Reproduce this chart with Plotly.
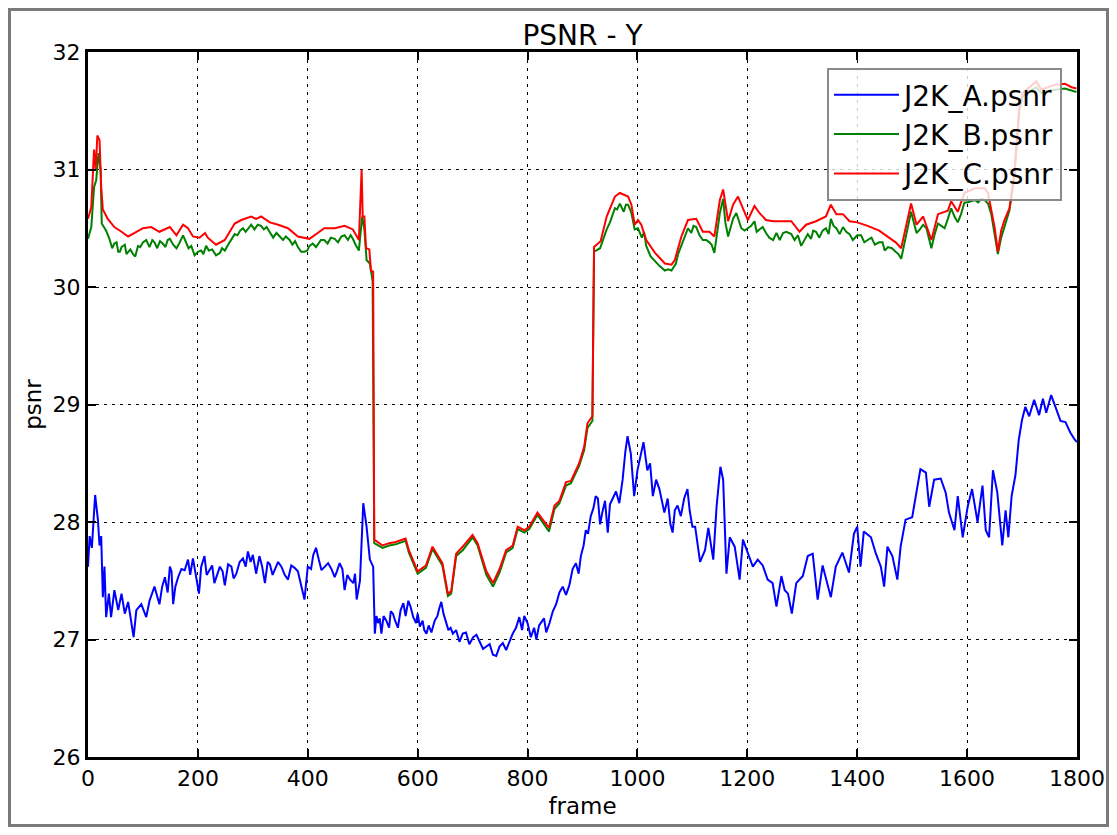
import plotly.graph_objects as go

# ---- data ----
a_frames = [0, 3, 7, 13, 18, 21, 24, 27, 30, 33, 38, 42, 48, 55, 61, 67, 73, 79, 83, 88, 97, 106, 112, 121, 130,
            140, 149, 155, 164, 176, 182, 191, 197, 202, 212, 221, 230, 240, 249, 261, 270, 282, 291, 300, 306,
            312, 322, 331, 340, 352, 364, 376, 388, 394, 400, 415, 425, 437, 449, 458, 467, 477, 489, 495, 501,
            507, 513, 519, 522, 528, 534, 543, 555, 564, 574, 583, 592, 604, 616, 631, 643, 652, 664, 682, 701,
            713, 725, 737, 749, 761, 773, 785, 794, 806, 821, 840, 852, 864, 876, 888, 897, 906, 915, 924, 936,
            946, 955, 967, 973, 982, 988, 994, 1000, 1011, 1018, 1028, 1040, 1049, 1064, 1073, 1091, 1100, 1105,
            1114, 1123, 1129, 1138, 1144, 1151, 1156, 1162, 1168, 1177, 1186, 1192, 1201, 1210, 1219, 1228, 1237,
            1246, 1253, 1262, 1268, 1274, 1281, 1289, 1301, 1310, 1319, 1328, 1337, 1352, 1361, 1373, 1385, 1394,
            1400, 1406, 1412, 1425, 1434, 1443, 1449, 1455, 1464, 1473, 1479, 1488, 1500, 1506, 1515, 1525, 1531,
            1540, 1552, 1561, 1567, 1577, 1583, 1592, 1601, 1609, 1619, 1628, 1634, 1640, 1647, 1655, 1664, 1670,
            1675, 1681, 1688, 1694, 1700, 1706, 1713, 1722, 1731, 1738, 1744, 1753, 1761, 1770, 1779, 1788, 1796,
            1800]
a_psnr = [27.62, 27.88, 27.78, 28.23, 28.02, 27.80, 27.88, 27.36, 27.62, 27.19, 27.39, 27.19, 27.42, 27.25, 27.39,
          27.22, 27.32, 27.16, 27.02, 27.25, 27.30, 27.19, 27.33, 27.45, 27.30, 27.53, 27.62, 27.30, 27.53, 27.59,
          27.68, 27.69, 27.53, 27.39, 27.71, 27.59, 27.48, 27.62, 27.46, 27.62, 27.56, 27.69, 27.75, 27.72, 27.56,
          27.71, 27.48, 27.64, 27.59, 27.62, 27.51, 27.61, 27.46, 27.34, 27.62, 27.78, 27.59, 27.65, 27.53, 27.65,
          27.42, 27.51, 27.34, 27.50, 28.16, 27.96, 27.68, 27.62, 27.05, 27.14, 27.05, 27.16, 27.22, 27.10, 27.31,
          27.33, 27.19, 27.11, 27.05, 27.16, 27.32, 27.14, 27.05, 27.05, 27.02, 26.98, 26.94, 26.87, 26.94, 26.91,
          27.05, 27.19, 27.20, 27.02, 27.12, 27.14, 27.30, 27.45, 27.46, 27.65, 27.71, 27.93, 28.05, 28.22, 28.08,
          27.91, 28.20, 28.16, 28.36, 28.73, 28.58, 28.22, 28.44, 28.68, 28.44, 28.22, 28.28, 28.08, 27.91, 28.14,
          28.28, 27.96, 27.96, 27.66, 27.76, 27.95, 27.68, 28.13, 28.47, 28.36, 27.56, 27.87, 27.79, 27.51, 27.85,
          27.73, 27.62, 27.68, 27.63, 27.51, 27.48, 27.28, 27.54, 27.42, 27.39, 27.22, 27.48, 27.54, 27.71, 27.73,
          27.34, 27.63, 27.36, 27.62, 27.74, 27.57, 27.90, 27.96, 27.62, 27.92, 27.87, 27.73, 27.62, 27.45, 27.79,
          27.71, 27.51, 27.79, 28.02, 28.04, 28.19, 28.45, 28.42, 28.13, 28.36, 28.37, 28.25, 28.08, 27.93, 28.22,
          27.87, 28.13, 28.28, 28.00, 28.31, 27.93, 27.87, 28.44, 28.25, 27.80, 28.10, 27.87, 28.22, 28.40, 28.70,
          28.87, 28.98, 28.90, 29.04, 28.91, 29.05, 28.93, 29.08, 28.98, 28.86, 28.85, 28.76, 28.70, 28.68]
# additional noise samples of A read between the points above
a_extra_frames = [135, 145, 152, 159, 170, 186, 206, 216, 226, 235, 245, 255, 265, 276, 287, 296, 317, 327, 336,
                  346, 358, 370, 382, 406, 410, 420, 431, 443, 453, 463, 472, 483, 486, 492,
                  525, 531, 538, 548, 551, 559, 569, 578, 587, 597, 600, 609, 612, 620, 625, 636, 639, 647, 656,
                  660, 670, 676, 688, 694, 707, 719, 731, 743, 755, 767, 779, 790, 800, 812, 816, 830, 834, 846,
                  858, 870, 882, 893, 902, 910, 920, 928, 932, 941, 950, 961, 978, 1005, 1023, 1034, 1045, 1055,
                  1060, 1068, 1079, 1085, 1095]
a_extra_psnr = [27.45, 27.40, 27.58, 27.45, 27.60, 27.55, 27.62, 27.55, 27.63, 27.55, 27.58, 27.64, 27.52, 27.66,
                27.62, 27.66, 27.62, 27.66, 27.55, 27.66, 27.55, 27.63, 27.58, 27.60, 27.72, 27.68, 27.62, 27.60,
                27.58, 27.60, 27.55, 27.48, 27.56, 27.42,
                27.20, 27.18, 27.20, 27.10, 27.24, 27.16, 27.25, 27.20, 27.28, 27.14, 27.22, 27.16, 27.08, 27.12,
                27.06, 27.20, 27.26, 27.22, 27.08, 27.10, 27.08, 26.98, 27.06, 26.96, 27.04, 26.92, 26.96, 26.86,
                26.97, 26.98, 27.10, 27.08, 27.14, 27.10, 27.00, 27.18, 27.06, 27.24, 27.40, 27.38, 27.60, 27.56,
                27.80, 27.90, 28.12, 28.20, 27.98, 28.18, 28.15, 28.26, 28.60, 28.55, 28.50, 28.36, 28.16, 28.20,
                27.98, 28.10, 28.05, 28.20, 28.10]

b_frames = [0, 6, 11, 15, 19, 23, 25, 33, 39, 48, 55, 61, 67, 73, 82, 91, 106, 121, 136, 149, 161, 173, 188, 200,
            215, 233, 249, 267, 282, 297, 315, 331, 349, 367, 382, 394, 403, 424, 449, 467, 482, 493, 499, 503,
            507, 513, 518, 521, 536, 548, 560, 578, 584, 600, 615, 627, 636, 645, 655, 661, 670, 682, 700, 709,
            725, 737, 749, 761, 773, 782, 794, 803, 818, 827, 839, 849, 858, 870, 879, 894, 903, 909, 918, 921,
            932, 944, 959, 968, 983, 989, 995, 1001, 1016, 1032, 1050, 1062, 1080, 1092, 1107, 1119, 1131, 1140,
            1150, 1156, 1165, 1174, 1180, 1189, 1201, 1213, 1222, 1234, 1247, 1265, 1280, 1298, 1310, 1325, 1343,
            1352, 1362, 1374, 1386, 1400, 1419, 1440, 1456, 1470, 1480, 1498, 1508, 1520, 1535, 1547, 1565, 1571,
            1583, 1595, 1614, 1632, 1638, 1650, 1656, 1662, 1668, 1677, 1686, 1695, 1701, 1714, 1726, 1735, 1747,
            1759, 1778, 1799]
b_psnr = [30.41, 30.51, 30.85, 30.91, 31.14, 31.00, 30.54, 30.48, 30.41, 30.37, 30.30, 30.34, 30.36, 30.30, 30.28,
          30.35, 30.40, 30.38, 30.37, 30.41, 30.33, 30.44, 30.35, 30.30, 30.35, 30.27, 30.31, 30.45, 30.50, 30.53,
          30.52, 30.47, 30.43, 30.40, 30.34, 30.30, 30.35, 30.40, 30.41, 30.44, 30.41, 30.31, 30.60, 30.49, 30.23,
          30.20, 30.05, 27.82, 27.78, 27.80, 27.81, 27.84, 27.74, 27.56, 27.61, 27.77, 27.70, 27.63, 27.37, 27.39,
          27.71, 27.76, 27.87, 27.80, 27.55, 27.45, 27.57, 27.74, 27.78, 27.94, 27.91, 27.94, 28.06, 28.00, 27.92,
          28.11, 28.16, 28.31, 28.33, 28.48, 28.61, 28.80, 28.86, 30.30, 30.33, 30.49, 30.67, 30.71, 30.70, 30.63,
          30.49, 30.50, 30.35, 30.22, 30.14, 30.14, 30.35, 30.50, 30.51, 30.40, 30.38, 30.29, 30.63, 30.75, 30.43,
          30.58, 30.63, 30.50, 30.50, 30.56, 30.49, 30.46, 30.40, 30.46, 30.45, 30.35, 30.45, 30.47, 30.50, 30.58,
          30.50, 30.51, 30.45, 30.44, 30.40, 30.38, 30.34, 30.30, 30.24, 30.64, 30.46, 30.53, 30.33, 30.54, 30.58,
          30.67, 30.55, 30.72, 30.74, 30.74, 30.71, 30.46, 30.28, 30.42, 30.51, 30.65, 30.94, 31.50, 31.62, 31.67,
          31.70, 31.65, 31.67, 31.68, 31.69, 31.66]
# additional noise samples of B read between the points above
b_extra_frames = [44, 52, 58, 64, 70, 77, 86, 95, 100, 112, 117, 126, 131, 141, 145, 155, 166, 178, 183, 194, 206,
                  210, 220, 226, 240, 244, 255, 260, 272, 277, 287, 292, 303, 309, 320, 325, 337, 343, 355, 360,
                  372, 377, 388, 399, 409, 415, 430, 436, 442, 455, 461, 473, 478, 487,
                  950, 963, 975, 979, 1008, 1012, 1024, 1040, 1056, 1070, 1074, 1086, 1098, 1102, 1113, 1125, 1135,
                  1145, 1160, 1170, 1185, 1195, 1207, 1217, 1228, 1240, 1253, 1259, 1271, 1286, 1292, 1304, 1316,
                  1320, 1331, 1337, 1348, 1357, 1368, 1380, 1392, 1407, 1413, 1426, 1432, 1446, 1450, 1463, 1475,
                  1485, 1492, 1503, 1514, 1526, 1530, 1541, 1553, 1559, 1577, 1589, 1600, 1620, 1626, 1644]
b_extra_psnr = [30.33, 30.38, 30.30, 30.35, 30.28, 30.32, 30.26, 30.34, 30.38, 30.34, 30.40, 30.33, 30.39, 30.34,
                30.40, 30.36, 30.37, 30.39, 30.33, 30.27, 30.31, 30.28, 30.31, 30.32, 30.29, 30.33, 30.36, 30.40,
                30.44, 30.48, 30.47, 30.50, 30.49, 30.53, 30.49, 30.51, 30.42, 30.46, 30.40, 30.43, 30.36, 30.39,
                30.30, 30.31, 30.37, 30.34, 30.40, 30.37, 30.42, 30.38, 30.43, 30.40, 30.44, 30.36,
                30.55, 30.66, 30.64, 30.70, 30.42, 30.47, 30.26, 30.18, 30.15, 30.20, 30.28, 30.42, 30.46, 30.52,
                30.44, 30.40, 30.36, 30.44, 30.55, 30.52, 30.56, 30.48, 30.52, 30.47, 30.51, 30.42, 30.46, 30.40,
                30.47, 30.40, 30.44, 30.40, 30.41, 30.48, 30.42, 30.48, 30.45, 30.52, 30.45, 30.47, 30.40, 30.44,
                30.38, 30.42, 30.36, 30.38, 30.31, 30.33, 30.28, 30.35, 30.50, 30.55, 30.49, 30.50, 30.42, 30.45,
                30.52, 30.50, 30.60, 30.62, 30.72, 30.72, 30.75, 30.62]

c_frames = [0, 6, 11, 14, 17, 21, 24, 27, 36, 48, 61, 73, 85, 100, 115, 130, 149, 161, 173, 182, 191, 203, 213,
            218, 233, 249, 267, 279, 297, 306, 315, 331, 346, 364, 382, 394, 403, 418, 430, 449, 467, 482, 493,
            498, 500, 503, 506, 512, 515, 519, 521, 536, 548, 560, 578, 584, 600, 615, 627, 636, 645, 655, 661,
            670, 682, 700, 709, 725, 737, 749, 761, 773, 782, 794, 803, 818, 827, 839, 849, 858, 870, 879, 894,
            903, 909, 918, 921, 933, 944, 959, 968, 983, 989, 995, 1001, 1007, 1016, 1032, 1050, 1062, 1068, 1080,
            1092, 1107, 1119, 1131, 1140, 1150, 1156, 1165, 1174, 1183, 1192, 1201, 1213, 1222, 1234, 1247, 1265,
            1280, 1295, 1307, 1325, 1343, 1352, 1362, 1374, 1386, 1400, 1419, 1440, 1456, 1470, 1480, 1498, 1508,
            1520, 1535, 1547, 1565, 1571, 1583, 1595, 1614, 1632, 1638, 1650, 1656, 1662, 1668, 1677, 1686, 1695,
            1701, 1714, 1726, 1735, 1747, 1759, 1778, 1790, 1799]
c_psnr = [30.58, 30.68, 31.17, 31.00, 31.29, 31.25, 30.85, 30.66, 30.58, 30.51, 30.47, 30.43, 30.46, 30.50, 30.51,
          30.47, 30.51, 30.44, 30.53, 30.50, 30.43, 30.42, 30.46, 30.42, 30.36, 30.40, 30.54, 30.57, 30.60, 30.58,
          30.60, 30.55, 30.53, 30.50, 30.43, 30.42, 30.41, 30.46, 30.50, 30.50, 30.52, 30.49, 30.40, 31.00, 30.60,
          30.60, 30.33, 30.32, 30.14, 30.13, 27.85, 27.80, 27.82, 27.83, 27.86, 27.76, 27.58, 27.63, 27.79, 27.72,
          27.65, 27.39, 27.41, 27.73, 27.79, 27.89, 27.82, 27.58, 27.48, 27.60, 27.76, 27.80, 27.96, 27.93, 27.96,
          28.08, 28.02, 27.95, 28.14, 28.18, 28.34, 28.35, 28.50, 28.64, 28.84, 28.90, 30.34, 30.39, 30.60, 30.77,
          30.80, 30.77, 30.70, 30.53, 30.57, 30.53, 30.40, 30.29, 30.20, 30.19, 30.23, 30.43, 30.57, 30.58, 30.47,
          30.47, 30.43, 30.74, 30.83, 30.56, 30.70, 30.77, 30.67, 30.57, 30.69, 30.63, 30.57, 30.56, 30.56, 30.56,
          30.47, 30.53, 30.56, 30.60, 30.70, 30.62, 30.62, 30.56, 30.55, 30.52, 30.48, 30.43, 30.38, 30.33, 30.71,
          30.53, 30.60, 30.40, 30.62, 30.65, 30.73, 30.64, 30.80, 30.84, 30.84, 30.80, 30.51, 30.30, 30.48, 30.57,
          30.67, 30.97, 31.53, 31.65, 31.70, 31.75, 31.68, 31.70, 31.72, 31.73, 31.70, 31.69]

series_names = ["J2K_A.psnr", "J2K_B.psnr", "J2K_C.psnr"]
series_colors = ["#0000ff", "#008000", "#ff0000"]
x_ticks = [0, 200, 400, 600, 800, 1000, 1200, 1400, 1600, 1800]
y_ticks = [26, 27, 28, 29, 30, 31, 32]

FONT = "DejaVu Sans"


def merged(fr, vals, efr=(), evals=()):
    pairs = sorted(list(zip(fr, vals)) + list(zip(efr, evals)))
    return [p[0] for p in pairs], [p[1] for p in pairs]


series = [merged(a_frames, a_psnr, a_extra_frames, a_extra_psnr),
          merged(b_frames, b_psnr, b_extra_frames, b_extra_psnr),
          merged(c_frames, c_psnr)]

fig = go.Figure()
for (fr, vals), name, col in zip(series, series_names, series_colors):
    fig.add_trace(go.Scatter(x=fr, y=vals, mode="lines", name=name,
                             line=dict(color=col, width=2)))

# page is shown with an 8px body margin, so the figure is placed 8px in
OFF = 8
W, H = 1117 - 2 * OFF, 835 - 2 * OFF
L, R, T, B = 88 - OFF, 1077 - OFF, 52 - OFF, 757 - OFF
pw, ph = R - L, B - T


def px(x):
    return (x - L) / pw


def py(y):
    return (B - y) / ph


axis_common = dict(
    showline=True, linecolor="black", linewidth=3, mirror="ticks",
    ticks="inside", ticklen=8, tickwidth=1.5, tickcolor="black",
    showgrid=True, gridcolor="black", gridwidth=1, griddash="3px,5px",
    zeroline=False, automargin=False,
    tickfont=dict(family=FONT, size=22, color="black"),
)

fig.update_layout(
    width=W, height=H, autosize=False,
    margin=dict(l=L, r=W - R, t=T, b=H - B, pad=0, autoexpand=False),
    paper_bgcolor="white", plot_bgcolor="white",
    font=dict(family=FONT, color="black"),
    title=dict(text="PSNR - Y", x=(L + R) / 2 / W, xanchor="center",
               y=1 - (35 - OFF) / H, yanchor="middle",
               font=dict(family=FONT, size=28, color="black")),
    xaxis=dict(range=[0, 1800], tickvals=x_ticks,
               title=dict(text="frame", font=dict(family=FONT, size=23), standoff=8),
               **axis_common),
    yaxis=dict(range=[26, 32], tickvals=y_ticks,
               title=dict(text="psnr", font=dict(family=FONT, size=23), standoff=5),
               **axis_common),
    legend=dict(x=px(1062 - OFF), y=py(68 - OFF), xanchor="right", yanchor="top",
                bgcolor="rgba(255,255,255,0.8)", bordercolor="#8a8a8a", borderwidth=2,
                font=dict(family=FONT, size=28, color="black"),
                itemwidth=65, tracegroupgap=0),
    showlegend=True,
    shapes=[dict(type="rect", xref="paper", yref="paper",
                 x0=px(1.5), x1=px(W - 1.5), y0=py(H - 1.5), y1=py(1.5),
                 line=dict(color="#7a7a7a", width=3), layer="below")],
)

fig.write_html("out.html")
